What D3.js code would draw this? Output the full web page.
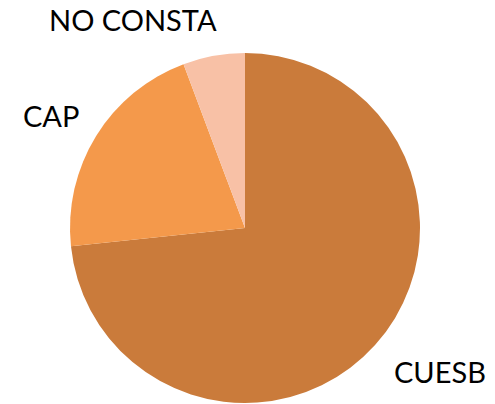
<!DOCTYPE html>
<html>
<head>
<meta charset="utf-8">
<script src="https://cdn.jsdelivr.net/npm/d3@7"></script>
<style>
  html, body { margin: 0; padding: 0; background: #fff; }
  .slice-label { font-family: Lato, "Liberation Sans", Arial, sans-serif; font-size: 29px; fill: #000; }
</style>
</head>
<body>
<svg id="pieChart" width="495" height="404"></svg>
<script>
// Data
const categories = ["CUESB", "CAP", "NO CONSTA"];
const counts = [77, 22, 6];
const sliceColors = ["#CA7B3B", "#F4994B", "#F8C1A6"];

const svg = d3.select("#pieChart");
const cx = 245, cy = 228, radius = 175;

const data = categories.map((c, i) => ({ category: c, value: counts[i] }));

const pie = d3.pie()
  .sort(null)
  .value(d => d.value);

const arc = d3.arc()
  .innerRadius(0)
  .outerRadius(radius);

const color = d3.scaleOrdinal()
  .domain(categories)
  .range(sliceColors);

const g = svg.append("g")
  .attr("transform", `translate(${cx},${cy})`);

g.selectAll(".slice")
  .data(pie(data))
  .enter().append("path")
  .attr("class", "slice")
  .attr("d", arc)
  .attr("fill", d => color(d.data.category));

// Labels sit outside the pie, like the original
const labelPos = {
  "CUESB": [394, 383],
  "CAP": [23, 127],
  "NO CONSTA": [49, 31]
};

svg.selectAll(".slice-label")
  .data(data)
  .enter().append("text")
  .attr("class", "slice-label")
  .attr("x", d => labelPos[d.category][0])
  .attr("y", d => labelPos[d.category][1])
  .text(d => d.category);
</script>
</body>
</html>
